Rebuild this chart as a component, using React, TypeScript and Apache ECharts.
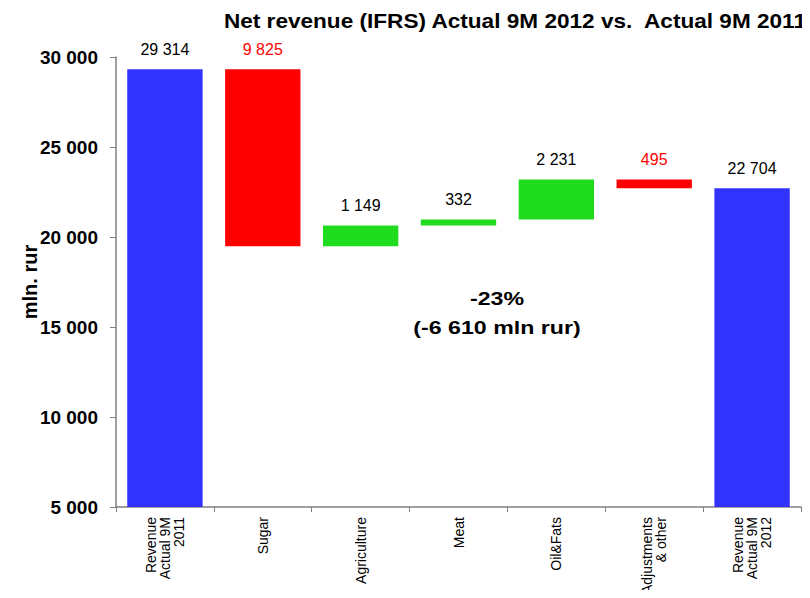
import React, { useEffect, useRef } from "react";
import * as echarts from "echarts";

const categories = [
  "Revenue\nActual 9M\n2011",
  "Sugar",
  "Agriculture",
  "Meat",
  "Oil&Fats",
  "Adjustments\n& other",
  "Revenue\nActual 9M\n2012",
];
// first and last are totals, the rest are changes
const totals = [29314, null, null, null, null, null, 22704];
const deltas = [null, -9825, 1149, 332, 2231, -495, null];
const yTicks = [5000, 10000, 15000, 20000, 25000, 30000];
const titleText = "Net revenue (IFRS) Actual 9M 2012 vs.  Actual 9M 2011";
const noteLines = ["-23%", "(-6 610 mln rur)"];

const FONT = "Liberation Sans, Arial, sans-serif";

const fmt = (v: number) =>
  Math.abs(Math.round(v))
    .toString()
    .replace(/\B(?=(\d{3})+(?!\d))/g, " ");

export default function App() {
  const ref = useRef<HTMLDivElement>(null);
  useEffect(() => {
    if (!ref.current) return;
    const chart = echarts.init(ref.current, null, { renderer: "svg" });

    const base: number[] = [];
    const visible: any[] = [];
    let running = 0;
    categories.forEach((_, i) => {
      const t = totals[i];
      const d = deltas[i];
      if (t != null) {
        running = t;
        base.push(0);
        visible.push({
          value: t,
          label: { color: "#000" },
          itemStyle: { color: "#3333ff" },
          raw: t,
        });
      } else if (d != null) {
        const next = running + d;
        base.push(Math.min(running, next));
        visible.push({
          value: Math.abs(d),
          label: { color: d < 0 ? "#ff0000" : "#000" },
          itemStyle: { color: d < 0 ? "#ff0000" : "#1fdc1f" },
          raw: d,
        });
        running = next;
      }
    });

    chart.setOption({
      animation: false,
      grid: { left: 116, right: 9, top: 57, bottom: 91 },
      xAxis: {
        type: "category",
        data: categories,
        axisLine: { lineStyle: { color: "#808080", width: 1.5 } },
        axisTick: { show: true, length: 5, lineStyle: { color: "#808080" } },
        axisLabel: {
          rotate: 90,
          interval: 0,
          margin: 10,
          fontFamily: FONT,
          fontSize: 14,
          color: "#000",
          lineHeight: 14,
        },
      },
      yAxis: {
        type: "value",
        min: 5000,
        max: 30000,
        interval: 5000,
        name: "mln. rur",
        nameLocation: "middle",
        nameGap: 76,
        nameMoveOverlap: false,
        nameTextStyle: {
          fontFamily: FONT,
          fontWeight: "bold",
          fontSize: 20,
          color: "#000",
        },
        axisLine: { show: true, lineStyle: { color: "#808080", width: 1.5 } },
        axisTick: { show: true, length: 6, lineStyle: { color: "#808080" } },
        splitLine: { show: false },
        axisLabel: {
          margin: 18,
          fontFamily: FONT,
          fontWeight: "bold",
          fontSize: 19,
          color: "#000",
          formatter: (v: number) => (yTicks.includes(v) ? fmt(v) : ""),
        },
      },
      series: [
        {
          type: "bar",
          stack: "wf",
          data: base,
          barWidth: "77%",
          itemStyle: { color: "transparent" },
          emphasis: { disabled: true },
          silent: true,
        },
        {
          type: "bar",
          stack: "wf",
          data: visible,
          barWidth: "77%",
          label: {
            show: true,
            position: "top",
            distance: 12,
            fontFamily: FONT,
            fontSize: 16,
            formatter: (p: any) => fmt(p.data.raw),
          },
        },
      ],
      graphic: [
        {
          type: "text",
          x: 806,
          y: 21,
          scaleX: 1.13,
          style: {
            text: titleText,
            align: "right",
            verticalAlign: "middle",
            fontFamily: FONT,
            fontWeight: "bold",
            fontSize: 20,
            fill: "#000",
          },
        },
        {
          type: "text",
          x: 497,
          y: 298,
          scaleX: 1.22,
          style: {
            text: noteLines[0],
            align: "center",
            verticalAlign: "middle",
            fontFamily: FONT,
            fontWeight: "bold",
            fontSize: 19,
            fill: "#000",
          },
        },
        {
          type: "text",
          x: 497,
          y: 327,
          scaleX: 1.22,
          style: {
            text: noteLines[1],
            align: "center",
            verticalAlign: "middle",
            fontFamily: FONT,
            fontWeight: "bold",
            fontSize: 19,
            fill: "#000",
          },
        },
      ],
    });
    return () => chart.dispose();
  }, []);
  return <div ref={ref} style={{ width: 810, height: 598, margin: -8 }} />;
}
